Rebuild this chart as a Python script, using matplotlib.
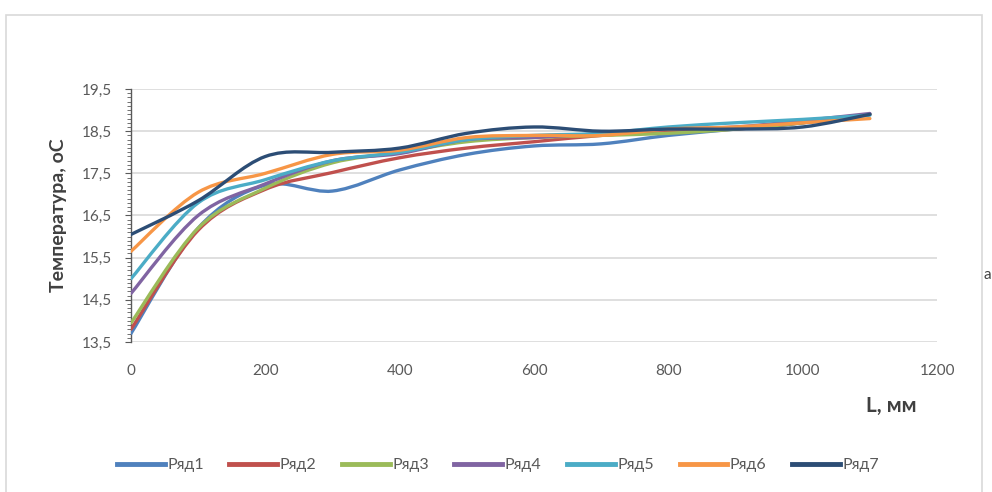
import matplotlib
matplotlib.use("Agg")
import matplotlib.pyplot as plt
import numpy as np
from matplotlib.path import Path
from matplotlib.patches import PathPatch, Rectangle
from matplotlib.lines import Line2D
from matplotlib.ticker import MultipleLocator, FuncFormatter

plt.rcParams['font.family'] = ['Lato', 'DejaVu Sans']

# Distance along the sample, mm
distance = [0, 100, 200, 300, 400, 500, 600, 700, 800, 900, 1000, 1100]

# Temperature for each row of sensors, °C
row1 = [13.7, 16.2, 17.22, 17.08, 17.58, 17.95, 18.15, 18.2, 18.4, 18.55, 18.7, 18.9]
row2 = [13.8, 16.15, 17.12, 17.52, 17.87, 18.1, 18.25, 18.4, 18.5, 18.55, 18.7, 18.9]
row3 = [13.95, 16.2, 17.15, 17.75, 18.0, 18.25, 18.35, 18.4, 18.45, 18.55, 18.7, 18.9]
row4 = [14.65, 16.5, 17.25, 17.8, 17.97, 18.3, 18.35, 18.45, 18.55, 18.6, 18.75, 18.92]
row5 = [15.0, 16.8, 17.35, 17.8, 18.0, 18.3, 18.4, 18.45, 18.6, 18.7, 18.78, 18.88]
row6 = [15.65, 17.05, 17.5, 17.95, 18.05, 18.35, 18.4, 18.4, 18.55, 18.6, 18.7, 18.8]
row7 = [16.05, 16.85, 17.9, 18.0, 18.1, 18.45, 18.6, 18.5, 18.55, 18.55, 18.6, 18.9]

series_names = ["Ряд1", "Ряд2", "Ряд3", "Ряд4", "Ряд5", "Ряд6", "Ряд7"]
series_colors = ["#4F81BD", "#C0504D", "#9BBB59", "#8064A2", "#4BACC6", "#F79646", "#2C4D75"]
series_values = [row1, row2, row3, row4, row5, row6, row7]

y_ticks = [13.5, 14.5, 15.5, 16.5, 17.5, 18.5, 19.5]
x_ticks = [0, 200, 400, 600, 800, 1000, 1200]


def smooth_path(xs, ys):
    """Catmull-Rom style Bezier path through the points (spreadsheet-like smoothing)."""
    pts = np.column_stack([xs, ys]).astype(float)
    n = len(pts)
    verts = [pts[0]]
    codes = [Path.MOVETO]
    for i in range(n - 1):
        p0 = pts[i - 1] if i > 0 else pts[i]
        p1 = pts[i]
        p2 = pts[i + 1]
        p3 = pts[i + 2] if i + 2 < n else pts[i + 1]
        c1 = p1 + (p2 - p0) / 6.0
        c2 = p2 - (p3 - p1) / 6.0
        verts += [c1, c2, p2]
        codes += [Path.CURVE4] * 3
    return Path(verts, codes)


fig = plt.figure(figsize=(9.92, 4.92), dpi=100)
ax = fig.add_axes([0.132, 0.305, 0.8126, 0.514])

# Chart frame
fig.patches.append(Rectangle((6 / 992, -0.1), (982 - 6) / 992, 1.1 - 15 / 492,
                             transform=fig.transFigure, fill=False,
                             edgecolor="#D9D9D9", linewidth=1.2, zorder=0))

for name, color, vals in zip(series_names, series_colors, series_values):
    patch = PathPatch(smooth_path(distance, vals), facecolor="none", edgecolor=color,
                      linewidth=2.4, capstyle="round", joinstyle="round", zorder=3)
    ax.add_patch(patch)

ax.set_xlim(0, 1200)
ax.set_ylim(13.5, 19.5)
ax.set_xticks(x_ticks)
ax.set_yticks(y_ticks)
ax.yaxis.set_minor_locator(MultipleLocator(0.1))
ax.yaxis.set_major_formatter(FuncFormatter(lambda v, p: f"{v:.1f}".replace(".", ",")))

ax.grid(axis="y", color="#D9D9D9", linewidth=1.2, zorder=0)
for s in ["top", "right", "bottom"]:
    ax.spines[s].set_visible(False)
ax.spines["left"].set_color("#595959")
ax.spines["left"].set_linewidth(1.0)

ax.tick_params(axis="y", which="major", length=4, color="#595959", labelsize=11,
               labelcolor="#595959", pad=10)
ax.tick_params(axis="y", which="minor", length=3, color="#595959")
ax.tick_params(axis="x", length=0, labelsize=11, labelcolor="#595959", pad=16)

ax.set_ylabel("Температура, оС", fontsize=14, fontweight="bold", color="#404040", labelpad=10)
fig.text(866 / 992, 1 - 406 / 492, "L, мм", fontsize=15, fontweight="bold",
         color="#404040", ha="left", va="center")
fig.text(983.5 / 992, 1 - 275 / 492, "а", fontsize=11, color="#404040", ha="left", va="center")

handles = [Line2D([0], [0], color=c, linewidth=3.5) for c in series_colors]
fig.legend(handles, series_names, loc="center", bbox_to_anchor=(0.502, 1 - 465 / 492),
           ncol=7, frameon=False, fontsize=11.5, labelcolor="#595959",
           handlelength=3.0, handletextpad=0.15, columnspacing=1.6)

fig.savefig("out.png", dpi=100, facecolor="white")
